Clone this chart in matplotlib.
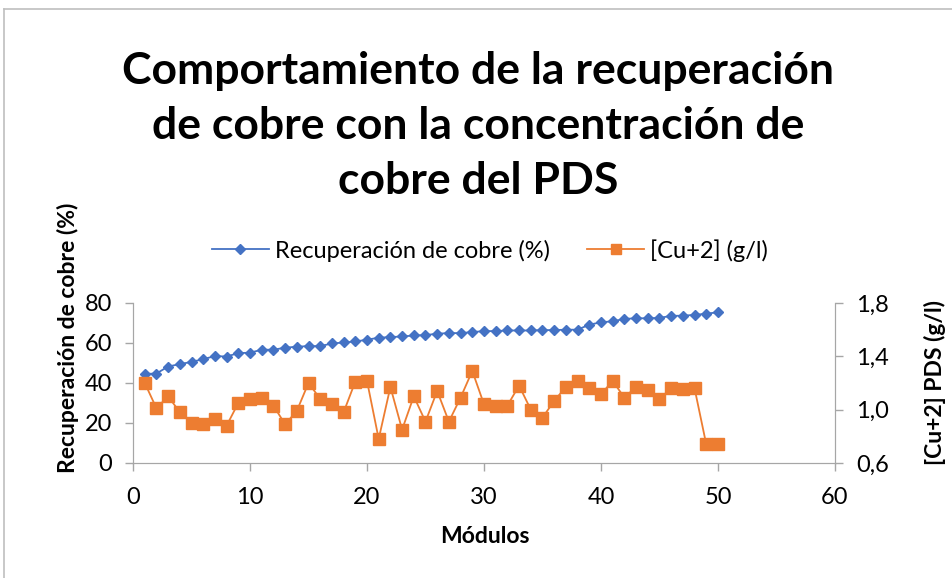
import matplotlib
matplotlib.use("Agg")
import matplotlib.pyplot as plt
from matplotlib.lines import Line2D
from matplotlib.ticker import FuncFormatter

plt.rcParams['font.family'] = ['Lato', 'DejaVu Sans']

# datos por modulo
modulos = list(range(1, 51))
recuperacion = [44.5, 44.7, 48.2, 49.4, 50.5, 51.9, 53.4, 53.2, 54.9, 55.1,
                56.6, 56.6, 57.6, 58.1, 58.4, 58.4, 59.7, 60.2, 60.7, 61.6,
                62.6, 62.9, 63.2, 63.7, 63.9, 64.6, 64.9, 64.9, 65.4, 65.9,
                65.9, 66.2, 66.2, 66.2, 66.4, 66.4, 66.6, 66.6, 69.1, 70.3,
                70.8, 72.0, 72.3, 72.3, 72.5, 73.5, 73.6, 74.0, 74.6, 75.3]
cu2 = [1.20, 1.01, 1.10, 0.98, 0.90, 0.89, 0.93, 0.88, 1.05, 1.08,
       1.09, 1.03, 0.89, 0.99, 1.20, 1.08, 1.04, 0.98, 1.21, 1.215,
       0.78, 1.17, 0.85, 1.10, 0.91, 1.14, 0.91, 1.09, 1.29, 1.04,
       1.03, 1.03, 1.18, 1.00, 0.94, 1.065, 1.17, 1.215, 1.16, 1.115,
       1.215, 1.09, 1.17, 1.15, 1.08, 1.16, 1.155, 1.16, 0.74, 0.74]

azul = '#4472C4'
naranja = '#ED7D31'
gris = '#A6A6A6'

fig = plt.figure(figsize=(9.53, 5.78), dpi=100)
ax = fig.add_axes([0.1396, 0.199, 0.7365, 0.277])
ax2 = ax.twinx()

ax.plot(modulos, recuperacion, color=azul, marker='D', markersize=5.5, lw=1.3)
ax2.plot(modulos, cu2, color=naranja, marker='s', markersize=8, lw=1.3)

ax.set_xlim(0, 60)
ax.set_ylim(0, 80)
ax2.set_ylim(0.6, 1.8)
ax.set_xticks(range(0, 61, 10))
ax.set_yticks(range(0, 81, 20))
ax2.set_yticks([0.6, 1.0, 1.4, 1.8])
ax2.yaxis.set_major_formatter(FuncFormatter(lambda v, p: f'{v:.1f}'.replace('.', ',')))

for a in (ax, ax2):
    for s in a.spines.values():
        s.set_color(gris)
    a.spines['top'].set_visible(False)
    a.tick_params(colors=gris, labelcolor='black', labelsize=17, length=6, width=1)
ax.tick_params(axis='y', pad=9)
ax2.tick_params(axis='y', pad=9)
ax.tick_params(axis='x', pad=11)

ax.set_xlabel('Módulos', fontsize=16.5, fontweight='bold')
ax.set_ylabel('Recuperación de cobre (%)', fontsize=16.5, fontweight='bold')
ax2.set_ylabel('[Cu+2] PDS (g/l)', fontsize=16.5, fontweight='bold')
ax.xaxis.set_label_coords(0.501, -0.462)
ax.yaxis.set_label_coords(-0.093, 0.78)
ax2.yaxis.set_label_coords(1.142, 0.5)
ax.xaxis.label.set_va('center')
ax.yaxis.label.set_va('center')
ax2.yaxis.label.set_va('center')

fig.text(0.502, 0.782, 'Comportamiento de la recuperación\nde cobre con la concentración de\ncobre del PDS',
         ha='center', va='center', fontsize=32, fontweight='bold', linespacing=1.45)

handles = [Line2D([], [], color=azul, marker='D', markersize=5, lw=1.3),
           Line2D([], [], color=naranja, marker='s', markersize=7, lw=1.3)]
fig.legend(handles, ['Recuperación de cobre (%)', '[Cu+2] (g/l)'],
           loc='center', bbox_to_anchor=(0.514, 0.567), ncol=2, frameon=False,
           fontsize=17, handlelength=2.4, columnspacing=1.6, handletextpad=0.25)

# marco del grafico
fig.add_artist(Line2D([4 / 953, 4 / 953], [0, 1 - 9 / 578], color='#BFBFBF', lw=1.2))
fig.add_artist(Line2D([4 / 953, 952 / 953], [1 - 9 / 578, 1 - 9 / 578], color='#BFBFBF', lw=1.2))

fig.savefig('out.png', dpi=100)
